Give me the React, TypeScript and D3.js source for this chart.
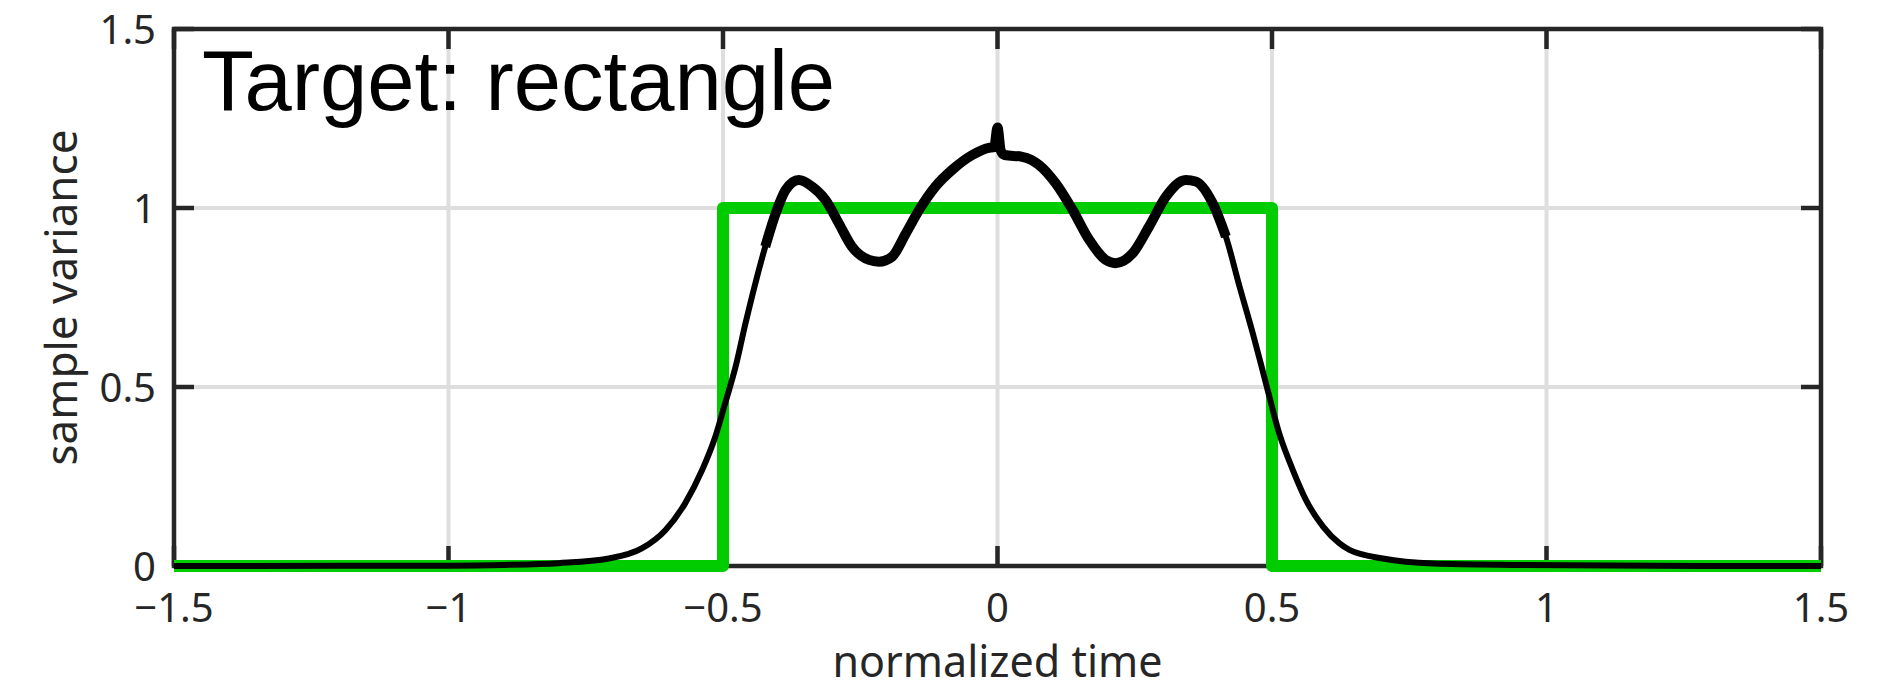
import React, { useRef, useEffect } from 'react';
import * as d3 from 'd3';

// black curve: sample variance
const timeVals = [
  -1.5, -1.2, -1.0, -0.9, -0.8, -0.708, -0.648, -0.605, -0.569, -0.538, -0.514, -0.496,
  -0.477, -0.459, -0.441, -0.423, -0.404, -0.386, -0.362, -0.338, -0.313, -0.289, -0.265,
  -0.234, -0.216, -0.192, -0.167, -0.143, -0.113, -0.08, -0.046, -0.016, -0.006, 0, 0.006,
  0.013, 0.045, 0.076, 0.106, 0.137, 0.167, 0.197, 0.215, 0.246, 0.276, 0.307, 0.343,
  0.361, 0.392, 0.416, 0.441, 0.465, 0.489, 0.513, 0.538, 0.562, 0.593, 0.623, 0.641,
  0.702, 0.793, 0.945, 1.2, 1.5,
];
const varianceVals = [
  0, 0.0005, 0.001, 0.003, 0.008, 0.021, 0.049, 0.1, 0.175, 0.268, 0.361, 0.455,
  0.557, 0.678, 0.79, 0.892, 0.985, 1.05, 1.078, 1.06, 1.022, 0.957, 0.892,
  0.855, 0.85, 0.864, 0.929, 0.994, 1.06, 1.11, 1.148, 1.168, 1.17, 1.225, 1.16,
  1.148, 1.143, 1.12, 1.069, 0.994, 0.911, 0.855, 0.846, 0.873, 0.948, 1.032, 1.078,
  1.074, 1.013, 0.92, 0.78, 0.65, 0.51, 0.371, 0.268, 0.184, 0.11, 0.063, 0.045,
  0.021, 0.007, 0.003, 0.0005, 0,
];

// green target rectangle
const rectTime = [-1.5, -0.5, -0.5, 0.5, 0.5, 1.5];
const rectVals = [0, 0, 1, 1, 0, 0];

const xTicks = [-1.5, -1, -0.5, 0, 0.5, 1, 1.5];
const yTicks = [0, 0.5, 1, 1.5];

const fmt = (v) => (v < 0 ? '\u2212' + Math.abs(v) : String(v));

const App = () => {
  const svgRef = useRef();
  const width = 1900;
  const height = 689;

  useEffect(() => {
    const svg = d3.select(svgRef.current);
    svg.selectAll('*').remove();

    const left = 174, right = 1821, top = 29, bottom = 566;
    const axisColor = '#262626';
    const tickFont = '"Noto Sans", "Open Sans", sans-serif';

    const xScale = d3.scaleLinear().domain([-1.5, 1.5]).range([left, right]);
    const yScale = d3.scaleLinear().domain([0, 1.5]).range([bottom, top]);

    // grid
    const grid = svg.append('g').attr('stroke', '#dedede').attr('stroke-width', 4);
    xTicks.slice(1, -1).forEach(t => {
      grid.append('line')
        .attr('x1', xScale(t)).attr('x2', xScale(t))
        .attr('y1', top).attr('y2', bottom);
    });
    yTicks.slice(1, -1).forEach(t => {
      grid.append('line')
        .attr('x1', left).attr('x2', right)
        .attr('y1', yScale(t)).attr('y2', yScale(t));
    });

    // box + inward ticks on all sides
    const axes = svg.append('g').attr('stroke', axisColor).attr('stroke-width', 4.5);
    axes.append('rect')
      .attr('x', left).attr('y', top)
      .attr('width', right - left).attr('height', bottom - top)
      .attr('fill', 'none');
    const tl = 20;
    xTicks.forEach(t => {
      axes.append('line').attr('x1', xScale(t)).attr('x2', xScale(t)).attr('y1', bottom).attr('y2', bottom - tl);
      axes.append('line').attr('x1', xScale(t)).attr('x2', xScale(t)).attr('y1', top).attr('y2', top + tl);
    });
    yTicks.forEach(t => {
      axes.append('line').attr('x1', left).attr('x2', left + tl).attr('y1', yScale(t)).attr('y2', yScale(t));
      axes.append('line').attr('x1', right).attr('x2', right - tl).attr('y1', yScale(t)).attr('y2', yScale(t));
    });

    // tick labels
    svg.append('g').selectAll('text')
      .data(xTicks).enter().append('text')
      .attr('x', d => xScale(d))
      .attr('y', 622)
      .attr('text-anchor', 'middle')
      .attr('font-family', tickFont)
      .attr('font-size', 40)
      .attr('fill', axisColor)
      .text(d => fmt(d));

    svg.append('g').selectAll('text')
      .data(yTicks).enter().append('text')
      .attr('x', 156)
      .attr('y', d => yScale(d) + 14.5)
      .attr('text-anchor', 'end')
      .attr('font-family', tickFont)
      .attr('font-size', 40)
      .attr('fill', axisColor)
      .text(d => fmt(d));

    // axis labels
    svg.append('text')
      .attr('x', (left + right) / 2)
      .attr('y', 677)
      .attr('text-anchor', 'middle')
      .attr('font-family', tickFont)
      .attr('font-size', 43)
      .attr('fill', axisColor)
      .text('normalized time');

    svg.append('text')
      .attr('transform', `translate(77, ${(top + bottom) / 2}) rotate(-90)`)
      .attr('text-anchor', 'middle')
      .attr('font-family', tickFont)
      .attr('font-size', 44)
      .attr('fill', axisColor)
      .text('sample variance');

    // target rectangle
    const rectData = rectTime.map((t, i) => [t, rectVals[i]]);
    const line = d3.line().x(d => xScale(d[0])).y(d => yScale(d[1]));
    svg.append('path')
      .attr('d', line(rectData))
      .attr('fill', 'none')
      .attr('stroke', '#00cc00')
      .attr('stroke-width', 12)
      .attr('stroke-linejoin', 'round');

    // sample variance curve
    const varData = timeVals.map((t, i) => [t, varianceVals[i]]);
    const curve = d3.line()
      .x(d => xScale(d[0]))
      .y(d => yScale(d[1]))
      .curve(d3.curveMonotoneX);
    svg.append('path')
      .attr('d', curve(varData))
      .attr('fill', 'none')
      .attr('stroke', '#000')
      .attr('stroke-width', 6)
      .attr('stroke-linejoin', 'round');
    // noisy middle part looks thicker in the original
    svg.append('path')
      .attr('d', curve(varData.filter(d => Math.abs(d[0]) <= 0.43)))
      .attr('fill', 'none')
      .attr('stroke', '#000')
      .attr('stroke-width', 10)
      .attr('stroke-linejoin', 'round')
      .attr('stroke-linecap', 'butt');

    // title inside the axes
    svg.append('text')
      .attr('x', 202)
      .attr('y', 110)
      .attr('font-family', '"Liberation Sans", Arial, sans-serif')
      .attr('font-size', 85)
      .attr('fill', '#000')
      .text('Target: rectangle');
  }, []);

  return (
    <svg
      ref={svgRef}
      width={width}
      height={height}
      style={{ position: 'absolute', left: 0, top: 0, background: '#fff' }}
    />
  );
};

export default App;
